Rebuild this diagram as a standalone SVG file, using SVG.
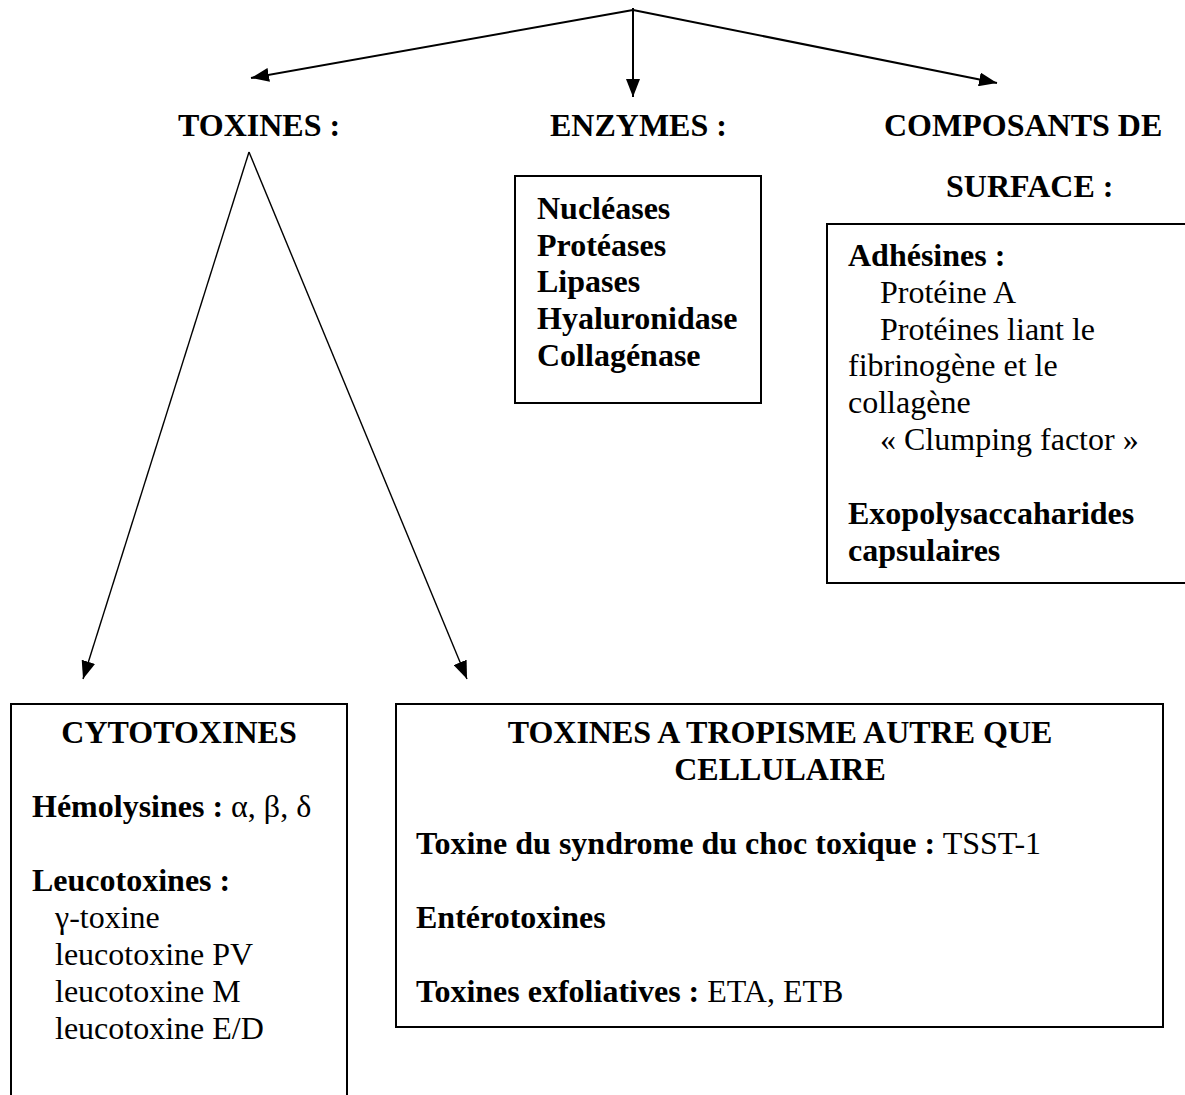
<svg xmlns="http://www.w3.org/2000/svg" width="1185" height="1095" viewBox="0 0 1185 1095">
<style>
text{font-family:"Liberation Serif","Times New Roman",serif;font-size:32px;fill:#000}
.b{font-weight:bold}
.box{fill:none;stroke:#000;stroke-width:2}
.c1{stroke:#000;stroke-width:2;fill:none}
.c2{stroke:#000;stroke-width:1.4;fill:none}
</style>
<defs>
<marker id="ah" markerUnits="userSpaceOnUse" markerWidth="20" markerHeight="14" refX="18" refY="7" orient="auto">
<path d="M0,0 L18,7 L0,14 Z" fill="#000"/>
</marker>
</defs>
<rect width="1185" height="1095" fill="#fff"/>
<g id="connectors">
<line class="c1" x1="633" y1="10" x2="251" y2="78" marker-end="url(#ah)"/>
<line class="c1" x1="633" y1="8" x2="633" y2="97" marker-end="url(#ah)"/>
<line class="c1" x1="633" y1="10" x2="997" y2="83" marker-end="url(#ah)"/>
<line class="c2" x1="249" y1="152" x2="83" y2="679" marker-end="url(#ah)"/>
<line class="c2" x1="249" y1="152" x2="467" y2="679" marker-end="url(#ah)"/>
</g>
<g id="toxines">
<text class="b" x="178" y="136">TOXINES :</text>
</g>
<g id="enzymes">
<text class="b" x="550" y="136">ENZYMES :</text>
</g>
<g id="composants">
<text class="b" x="884" y="136">COMPOSANTS DE</text>
<text class="b" x="946" y="197">SURFACE :</text>
</g>
<g id="enzymes-box">
<rect class="box" x="515" y="176" width="246" height="227"/>
<text class="b" x="537" y="219">Nucléases</text>
<text class="b" x="537" y="256">Protéases</text>
<text class="b" x="537" y="292">Lipases</text>
<text class="b" x="537" y="329">Hyaluronidase</text>
<text class="b" x="537" y="366">Collagénase</text>
</g>
<g id="surface-box">
<path class="box" d="M1186,224 H827 V583 H1186"/>
<text class="b" x="848" y="266">Adhésines :</text>
<text x="880" y="303">Protéine A</text>
<text x="880" y="340">Protéines liant le</text>
<text x="848" y="376">fibrinogène et le</text>
<text x="848" y="413">collagène</text>
<text x="880" y="450">« Clumping factor »</text>
<text class="b" x="848" y="524">Exopolysaccaharides</text>
<text class="b" x="848" y="561">capsulaires</text>
</g>
<g id="cytotoxines">
<path class="box" d="M11,1096 V704 H347 V1096"/>
<text class="b" x="179" y="743" text-anchor="middle">CYTOTOXINES</text>
<text x="32" y="817"><tspan class="b">Hémolysines :</tspan> α, β, δ</text>
<text class="b" x="32" y="891">Leucotoxines :</text>
<text x="55" y="928">γ-toxine</text>
<text x="55" y="965">leucotoxine PV</text>
<text x="55" y="1002">leucotoxine M</text>
<text x="55" y="1039">leucotoxine E/D</text>
</g>
<g id="tropisme">
<rect class="box" x="396" y="704" width="767" height="323"/>
<text class="b" x="780" y="743" text-anchor="middle">TOXINES A TROPISME AUTRE QUE</text>
<text class="b" x="780" y="780" text-anchor="middle">CELLULAIRE</text>
<text x="416" y="854"><tspan class="b">Toxine du syndrome du choc toxique :</tspan> TSST-1</text>
<text class="b" x="416" y="928">Entérotoxines</text>
<text x="416" y="1002"><tspan class="b">Toxines exfoliatives :</tspan> ETA, ETB</text>
</g>
</svg>
